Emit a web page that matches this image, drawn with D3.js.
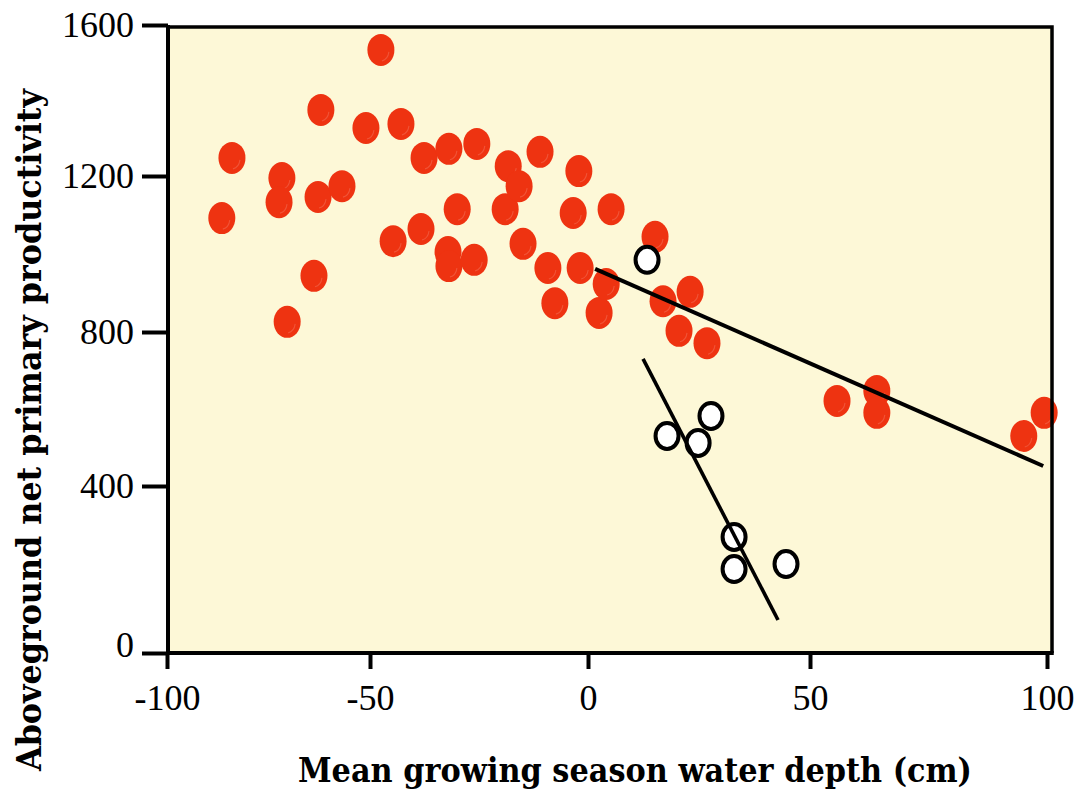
<!DOCTYPE html>
<html>
<head>
<meta charset="utf-8">
<script src="https://cdn.jsdelivr.net/npm/d3@7"></script>
<style>
  body { margin: 0; background: #ffffff; }
  svg { display: block; }
</style>
</head>
<body>
<svg id="chart" width="1083" height="794"></svg>
<script>
// Axis ticks
const xTickValues = [-100, -50, 0, 50, 100];
const yTickValues = [0, 400, 800, 1200, 1600];

// Sites that are dry or shallowly flooded (filled markers)
const siteDepth = [-86.5, -84.0, -71.7, -72.4, -70.4, -63.8, -62.8, -62.1, -56.9, -51.0,
                   -47.5, -44.7, -42.9, -37.6, -38.3, -31.9, -32.1, -31.9, -30.0, -26.1,
                   -25.5, -19.0, -18.3, -15.8, -14.9, -11.0, -9.2, -7.6, -3.4, -2.1,
                   -1.8, 2.5, 4.1, 5.2, 15.1, 16.9, 23.0, 20.5, 26.8, 55.7,
                   64.1, 64.1, 95.1, 99.4];
const siteAnpp  = [1092, 1248, 1195, 1133, 826, 944, 1146, 1375, 1174, 1327,
                   1534, 1033, 1338, 1248, 1064, 1272, 1005, 969, 1115, 985,
                   1285, 1115, 1226, 1174, 1026, 1264, 964, 874, 1105, 1213,
                   964, 849, 923, 1115, 1044, 879, 903, 803, 771, 621,
                   647, 590, 530, 590];

// Sites in the second group (open markers)
const openDepth = [13.3, 17.8, 24.8, 27.7, 32.9, 32.9, 44.6];
const openAnpp  = [985, 530, 512, 582, 278, 201, 213];

// Fitted regression lines: [start, end]
const fitDepthA = [1.6, 99.2];
const fitAnppA  = [962, 452];
const fitDepthB = [12.4, 42.8];
const fitAnppB  = [730, 79];

const svg = d3.select("#chart");

const x = d3.scaleLinear().domain(xTickValues).range([167, 370, 588, 810, 1047]);
const y = d3.scaleLinear().domain(yTickValues).range([653, 486, 332, 176, 25]);

const plotLeft = 168, plotRight = 1052, plotTop = 27, plotBottom = 653;

// Plot background
svg.append("rect")
  .attr("x", plotLeft).attr("y", plotTop)
  .attr("width", plotRight - plotLeft).attr("height", plotBottom - plotTop)
  .attr("fill", "#fdf8d7");

// Filled site markers
const red = svg.append("g");
siteDepth.forEach((d, i) => {
  const cx = x(d), cy = y(siteAnpp[i]);
  red.append("ellipse")
    .attr("cx", cx).attr("cy", cy).attr("rx", 13.5).attr("ry", 16)
    .attr("fill", "#ee3311");
  red.append("path")
    .attr("d", `M${cx + 8},${cy + 2} A9 11 0 0 1 ${cx + 1},${cy + 11}`)
    .attr("fill", "none")
    .attr("stroke", "rgba(255,255,255,0.16)")
    .attr("stroke-width", 1.1);
});

// Open markers
svg.append("g").selectAll("ellipse")
  .data(openDepth.map((d, i) => [d, openAnpp[i]]))
  .join("ellipse")
  .attr("cx", d => x(d[0])).attr("cy", d => y(d[1]))
  .attr("rx", 11.5).attr("ry", 13)
  .attr("fill", "#ffffff")
  .attr("stroke", "#000000")
  .attr("stroke-width", 4);

// Regression lines
svg.append("line")
  .attr("x1", x(fitDepthA[0])).attr("y1", y(fitAnppA[0]))
  .attr("x2", x(fitDepthA[1])).attr("y2", y(fitAnppA[1]))
  .attr("stroke", "#000").attr("stroke-width", 4);
svg.append("line")
  .attr("x1", x(fitDepthB[0])).attr("y1", y(fitAnppB[0]))
  .attr("x2", x(fitDepthB[1])).attr("y2", y(fitAnppB[1]))
  .attr("stroke", "#000").attr("stroke-width", 3.6);

// Frame: top and right edges
svg.append("path")
  .attr("d", `M${plotLeft},${plotTop} H${plotRight} V${plotBottom}`)
  .attr("fill", "none").attr("stroke", "#000").attr("stroke-width", 3.5);

// Axes
const yAxis = svg.append("g")
  .attr("transform", `translate(${plotLeft},0)`)
  .call(d3.axisLeft(y).tickValues(yTickValues).tickSize(26).tickPadding(8)
    .tickFormat(d => String(d)));
const xAxis = svg.append("g")
  .attr("transform", `translate(0,${plotBottom})`)
  .call(d3.axisBottom(x).tickValues(xTickValues).tickSize(16).tickPadding(15)
    .tickFormat(d => String(d)));

[yAxis, xAxis].forEach(g => {
  g.select(".domain").remove();
  g.selectAll(".tick line").attr("stroke", "#000").attr("stroke-width", 4);
  g.selectAll(".tick text")
    .attr("fill", "#000")
    .style("font-family", "'Liberation Serif', 'Times New Roman', serif")
    .style("font-size", "36px");
});
// the zero label sits a little above the bottom axis line
yAxis.selectAll(".tick text").filter(d => d === 0).attr("dy", "0.1em");

// Left and bottom axis lines
svg.append("path")
  .attr("d", `M${plotLeft},${plotTop - 2} V${plotBottom} H${plotRight + 1.75}`)
  .attr("fill", "none").attr("stroke", "#000").attr("stroke-width", 4);

// Axis titles
svg.append("text")
  .attr("x", 635).attr("y", 782)
  .attr("text-anchor", "middle")
  .attr("textLength", 674).attr("lengthAdjust", "spacingAndGlyphs")
  .style("font-family", "'DejaVu Serif', serif")
  .style("font-weight", "bold")
  .style("font-size", "33px")
  .attr("fill", "#000")
  .text("Mean growing season water depth (cm)");

svg.append("text")
  .attr("transform", "translate(41,430) rotate(-90)")
  .attr("text-anchor", "middle")
  .attr("textLength", 682).attr("lengthAdjust", "spacingAndGlyphs")
  .style("font-family", "'DejaVu Serif', serif")
  .style("font-weight", "bold")
  .style("font-size", "33px")
  .attr("fill", "#000")
  .text("Aboveground net primary productivity");
</script>
</body>
</html>
